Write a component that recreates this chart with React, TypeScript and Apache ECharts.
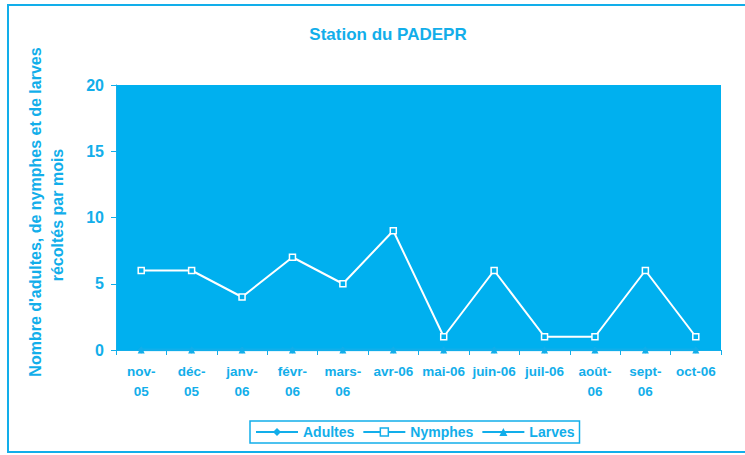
import React, { useEffect, useRef } from "react";
import * as echarts from "echarts";

const categories = ["nov-\n05", "déc-\n05", "janv-\n06", "févr-\n06", "mars-\n06", "avr-06", "mai-06", "juin-06", "juil-06", "août-\n06", "sept-\n06", "oct-06"];
const adultes = [0, 0, 0, 0, 0, 0, 0, 0, 0, 0, 0, 0];
const nymphes = [6, 6, 4, 7, 5, 9, 1, 6, 1, 1, 6, 1];
const larves = [0, 0, 0, 0, 0, 0, 0, 0, 0, 0, 0, 0];
const yTicks = { min: 0, max: 20, interval: 5 };

const CYAN = "#12aeea";
const FILL = "#00b0ef";
const FONT = "Liberation Sans, Arial, sans-serif";

export default function App() {
  const ref = useRef<HTMLDivElement>(null);
  useEffect(() => {
    const chart = echarts.init(ref.current!, null, { renderer: "svg" });
    chart.setOption({
      animation: false,
      backgroundColor: "#ffffff",
      title: {
        text: "Station du PADEPR",
        left: 383,
        top: 21,
        textAlign: "center",
        textStyle: { color: CYAN, fontSize: 17, fontWeight: "bold", fontFamily: FONT },
      },
      graphic: [
        {
          type: "rect",
          shape: { x: 8, y: 5, width: 760, height: 447 },
          style: { fill: "none", stroke: CYAN, lineWidth: 2 },
          silent: true,
        },
        {
          type: "text",
          x: 35,
          y: 212,
          rotation: Math.PI / 2,
          style: {
            text: "Nombre d'adultes, de nymphes et de larves",
            fill: CYAN,
            font: "bold 16px " + FONT,
            textAlign: "center",
            textVerticalAlign: "middle",
          },
        },
        {
          type: "text",
          x: 57,
          y: 215,
          rotation: Math.PI / 2,
          style: {
            text: "récoltés par mois",
            fill: CYAN,
            font: "bold 16px " + FONT,
            textAlign: "center",
            textVerticalAlign: "middle",
          },
        },
      ],
      legend: {
        left: 250,
        top: 421,
        itemGap: 8,
        itemWidth: 42,
        itemHeight: 10,
        padding: [4, 5, 4, 5],
        borderColor: CYAN,
        borderWidth: 1.5,
        borderRadius: 0,
        textStyle: { color: CYAN, fontSize: 14, fontWeight: "bold", fontFamily: FONT, padding: [0, 0, 0, 0] },
        data: [
          "Adultes",
          {
            name: "Nymphes",
            lineStyle: { color: CYAN, width: 2 },
            itemStyle: { color: "#ffffff", borderColor: CYAN, borderWidth: 1.5 },
          },
          "Larves",
        ],
      },
      grid: { left: 116, right: 24, top: 85, bottom: 105, show: true, backgroundColor: FILL, borderWidth: 0 },
      xAxis: {
        type: "category",
        data: categories,
        boundaryGap: true,
        axisLine: { show: true, lineStyle: { color: CYAN, width: 1 } },
        axisTick: { show: true, lineStyle: { color: CYAN }, length: 5 },
        axisLabel: {
          color: CYAN,
          fontSize: 13.5,
          fontWeight: "bold",
          fontFamily: FONT,
          lineHeight: 20,
          margin: 11,
          interval: 0,
        },
      },
      yAxis: {
        type: "value",
        min: yTicks.min,
        max: yTicks.max,
        interval: yTicks.interval,
        splitLine: { show: false },
        axisLine: { show: true, lineStyle: { color: CYAN } },
        axisTick: { show: true, lineStyle: { color: CYAN }, length: 5 },
        axisLabel: { color: CYAN, fontSize: 16, fontWeight: "bold", fontFamily: FONT, margin: 12 },
      },
      series: [
        {
          name: "Adultes",
          type: "line",
          data: adultes,
          color: CYAN,
          symbol: "diamond",
          symbolSize: 7,
          lineStyle: { color: CYAN, width: 2.5 },
          itemStyle: { color: CYAN },
        },
        {
          name: "Nymphes",
          type: "line",
          data: nymphes,
          color: CYAN,
          symbol: "rect",
          symbolSize: 6,
          lineStyle: { color: "#ffffff", width: 2 },
          itemStyle: { color: FILL, borderColor: "#ffffff", borderWidth: 1.5 },
          z: 3,
        },
        {
          name: "Larves",
          type: "line",
          data: larves,
          color: CYAN,
          symbol: "triangle",
          symbolSize: 7,
          lineStyle: { color: CYAN, width: 2.5 },
          itemStyle: { color: CYAN },
        },
      ],
    });
    return () => chart.dispose();
  }, []);
  return <div ref={ref} style={{ width: 745, height: 455, position: "absolute", left: 0, top: 0 }} />;
}
